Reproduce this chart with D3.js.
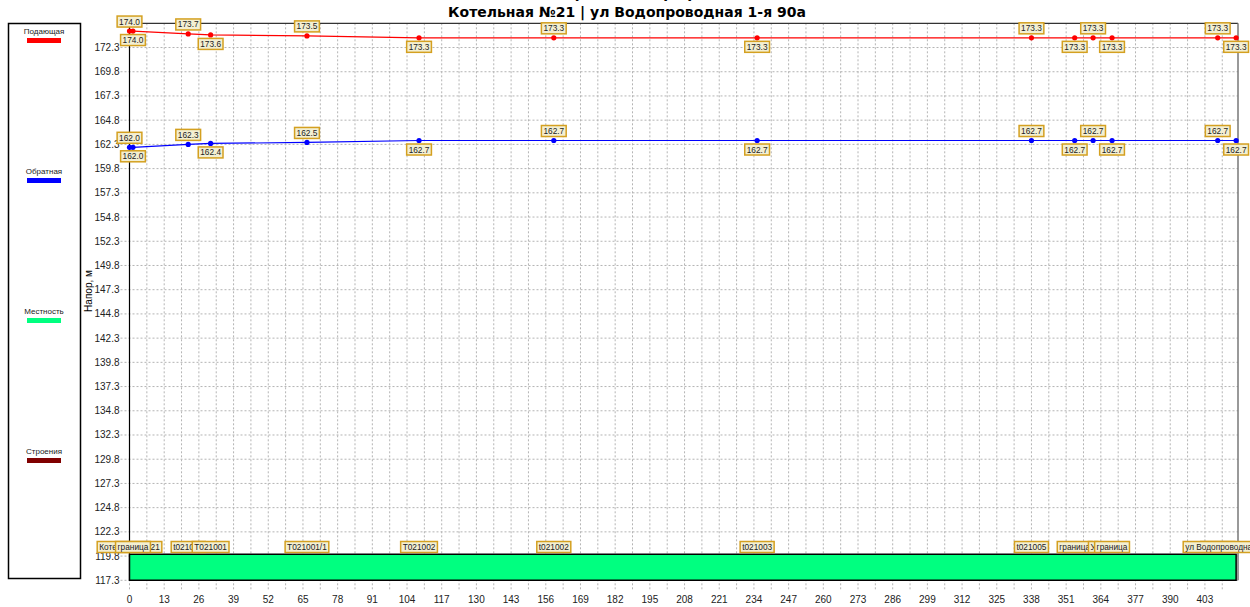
<!DOCTYPE html>
<html>
<head>
<meta charset="utf-8">
<script src="https://cdn.jsdelivr.net/npm/d3@7"></script>
<style>
  body { margin: 0; background: #fff; }
  svg { display: block; font-family: "Liberation Sans", Arial, sans-serif; }
</style>
</head>
<body>
<div id="chart"></div>
<script>
// узлы трассы: расстояние, м
const dist = [0, 1.3, 22, 30.4, 66.5, 108.5, 159, 235.2, 338, 354.2, 361.1, 368.2, 407.8, 414.7];
const nodeNames = ["Котельная №21", "граница", "t021001", "T021001", "T021001/1", "T021002", "t021002",
  "t021003", "t021005", "граница", "У", "граница", "t021006", "ул Водопроводная 1-я 90а"];
// напоры, м
const supply = [174.0, 174.0, 173.7, 173.6, 173.5, 173.3, 173.3, 173.3, 173.3, 173.3, 173.3, 173.3, 173.3, 173.3];
const returnLine = [162.0, 162.0, 162.3, 162.4, 162.5, 162.7, 162.7, 162.7, 162.7, 162.7, 162.7, 162.7, 162.7, 162.7];
const terrain = [120.0, 120.0, 120.0, 120.0, 120.0, 120.0, 120.0, 120.0, 120.0, 120.0, 120.0, 120.0, 120.0, 120.0];

const yTicks = [117.3, 119.8, 122.3, 124.8, 127.3, 129.8, 132.3, 134.8, 137.3, 139.8, 142.3, 144.8, 147.3,
  149.8, 152.3, 154.8, 157.3, 159.8, 162.3, 164.8, 167.3, 169.8, 172.3];
const xTicks = [0, 13, 26, 39, 52, 65, 78, 91, 104, 117, 130, 143, 156, 169, 182, 195, 208, 221, 234, 247,
  260, 273, 286, 299, 312, 325, 338, 351, 364, 377, 390, 403];

const legendItems = [
  { name: "Подающая", color: "#ff0000" },
  { name: "Обратная", color: "#0000ff" },
  { name: "Местность", color: "#00ff80" },
  { name: "Строения", color: "#800000" }
];

const width = 1250, height = 607;
const plot = { left: 129.5, right: 1238, top: 23.3, bottom: 580.3 };

const svg = d3.select("#chart").append("svg")
  .attr("width", width)
  .attr("height", height);

const x = d3.scaleLinear().domain([0, 415.4]).range([plot.left, plot.right]);
const y = d3.scaleLinear().domain([117.3, 174.8]).range([plot.bottom, plot.top]);

// заголовок (верхняя строка почти целиком за краем)
svg.append("text")
  .attr("x", 607).attr("y", -2)
  .attr("text-anchor", "middle")
  .style("font-family", "DejaVu Sans")
  .style("font-weight", "bold")
  .style("font-size", "14px")
  .text("Пьезометрический график");
svg.append("text")
  .attr("x", 627).attr("y", 17)
  .attr("text-anchor", "middle")
  .style("font-family", "DejaVu Sans")
  .style("font-weight", "bold")
  .style("font-size", "14px")
  .text("Котельная №21 | ул Водопроводная 1-я 90а");

// сетка
const halfTicks = d3.range(0, 410, 6.5);
svg.append("g").selectAll("line")
  .data(halfTicks)
  .join("line")
  .attr("x1", d => x(d)).attr("x2", d => x(d))
  .attr("y1", plot.top).attr("y2", plot.bottom + 11)
  .attr("stroke", "#b4b4b4")
  .attr("stroke-dasharray", "2,2");

svg.append("g").selectAll("line")
  .data(yTicks)
  .join("line")
  .attr("x1", plot.left - 9).attr("x2", plot.right)
  .attr("y1", d => y(d)).attr("y2", d => y(d))
  .attr("stroke", "#b4b4b4")
  .attr("stroke-dasharray", "2,2");

// подписи осей
svg.append("g").selectAll("text")
  .data(yTicks)
  .join("text")
  .attr("x", plot.left - 10)
  .attr("y", d => y(d) + 3.5)
  .attr("text-anchor", "end")
  .style("font-size", "10px")
  .style("fill", "#222")
  .text(d => d.toFixed(1));

svg.append("g").selectAll("text")
  .data(xTicks)
  .join("text")
  .attr("x", d => x(d))
  .attr("y", 603)
  .attr("text-anchor", "middle")
  .style("font-size", "10px")
  .style("fill", "#222")
  .text(d => d);

svg.append("text")
  .attr("transform", "translate(92,291) rotate(-90)")
  .attr("text-anchor", "middle")
  .style("font-size", "10px")
  .text("Напор, м");

// рамка области построения
svg.append("line")
  .attr("x1", plot.left).attr("x2", plot.right)
  .attr("y1", plot.top).attr("y2", plot.top)
  .attr("stroke", "#333").attr("stroke-width", 1.2);
svg.append("line")
  .attr("x1", plot.right).attr("x2", plot.right)
  .attr("y1", plot.top).attr("y2", plot.bottom)
  .attr("stroke", "#777").attr("stroke-width", 1.5);
svg.append("line")
  .attr("x1", plot.left).attr("x2", plot.left)
  .attr("y1", plot.top).attr("y2", plot.bottom)
  .attr("stroke", "#000").attr("stroke-width", 1.2);

// местность
const area = d3.area()
  .x(d => x(d[0]))
  .y0(y(117.3))
  .y1(d => y(d[1]));
svg.append("path")
  .datum(dist.map((d, i) => [d, terrain[i]]))
  .attr("d", d => area(d) + "Z")
  .attr("fill", "#00ff80")
  .attr("stroke", "#000")
  .attr("stroke-width", 1.5);

// линии напоров
const line = d3.line().x(d => x(d[0])).y(d => y(d[1]));
function drawSeries(values, color) {
  const pts = dist.map((d, i) => [d, values[i]]);
  svg.append("path")
    .datum(pts)
    .attr("d", line)
    .attr("fill", "none")
    .attr("stroke", color)
    .attr("stroke-width", 1.2);
  svg.append("g").selectAll("circle")
    .data(pts)
    .join("circle")
    .attr("cx", d => x(d[0]))
    .attr("cy", d => y(d[1]))
    .attr("r", 2.6)
    .attr("fill", color);
}
drawSeries(supply, "#ff0000");
drawSeries(returnLine, "#0000ff");

// подпись в рамке
function tag(g, cx, cy, txt) {
  const t = g.append("text")
    .attr("x", cx).attr("y", cy + 3)
    .attr("text-anchor", "middle")
    .style("font-size", "8.3px")
    .style("fill", "#222")
    .text(txt);
  const w = t.node().getComputedTextLength() + 4;
  g.insert("rect", "text:last-child")
    .attr("x", cx - w / 2).attr("y", cy - 5.5)
    .attr("width", w).attr("height", 11)
    .attr("fill", "#f3efd2")
    .attr("stroke", "#d4a020")
    .attr("stroke-width", 1.5);
}

function drawValueLabels(values) {
  dist.forEach((d, i) => {
    const g = svg.append("g");
    const py = y(values[i]);
    const cy = i % 2 === 0 ? py - 9.5 : py + 9;
    tag(g, x(d), cy, values[i].toFixed(1));
  });
}
drawValueLabels(supply);
drawValueLabels(returnLine);

// имена узлов
dist.forEach((d, i) => {
  tag(svg.append("g"), x(d), 547, nodeNames[i]);
});

// легенда
svg.append("rect")
  .attr("x", 8.5).attr("y", 23.5)
  .attr("width", 72).attr("height", 555)
  .attr("fill", "#fff")
  .attr("stroke", "#000")
  .attr("stroke-width", 1.5);

const lg = svg.append("g").selectAll("g")
  .data(legendItems)
  .join("g")
  .attr("transform", (d, i) => `translate(44,${34 + i * 140})`);
lg.append("text")
  .attr("text-anchor", "middle")
  .style("font-size", "8px")
  .style("fill", "#222")
  .text(d => d.name);
lg.append("rect")
  .attr("x", -17).attr("y", 4)
  .attr("width", 34).attr("height", 5)
  .attr("fill", d => d.color);
</script>
</body>
</html>
